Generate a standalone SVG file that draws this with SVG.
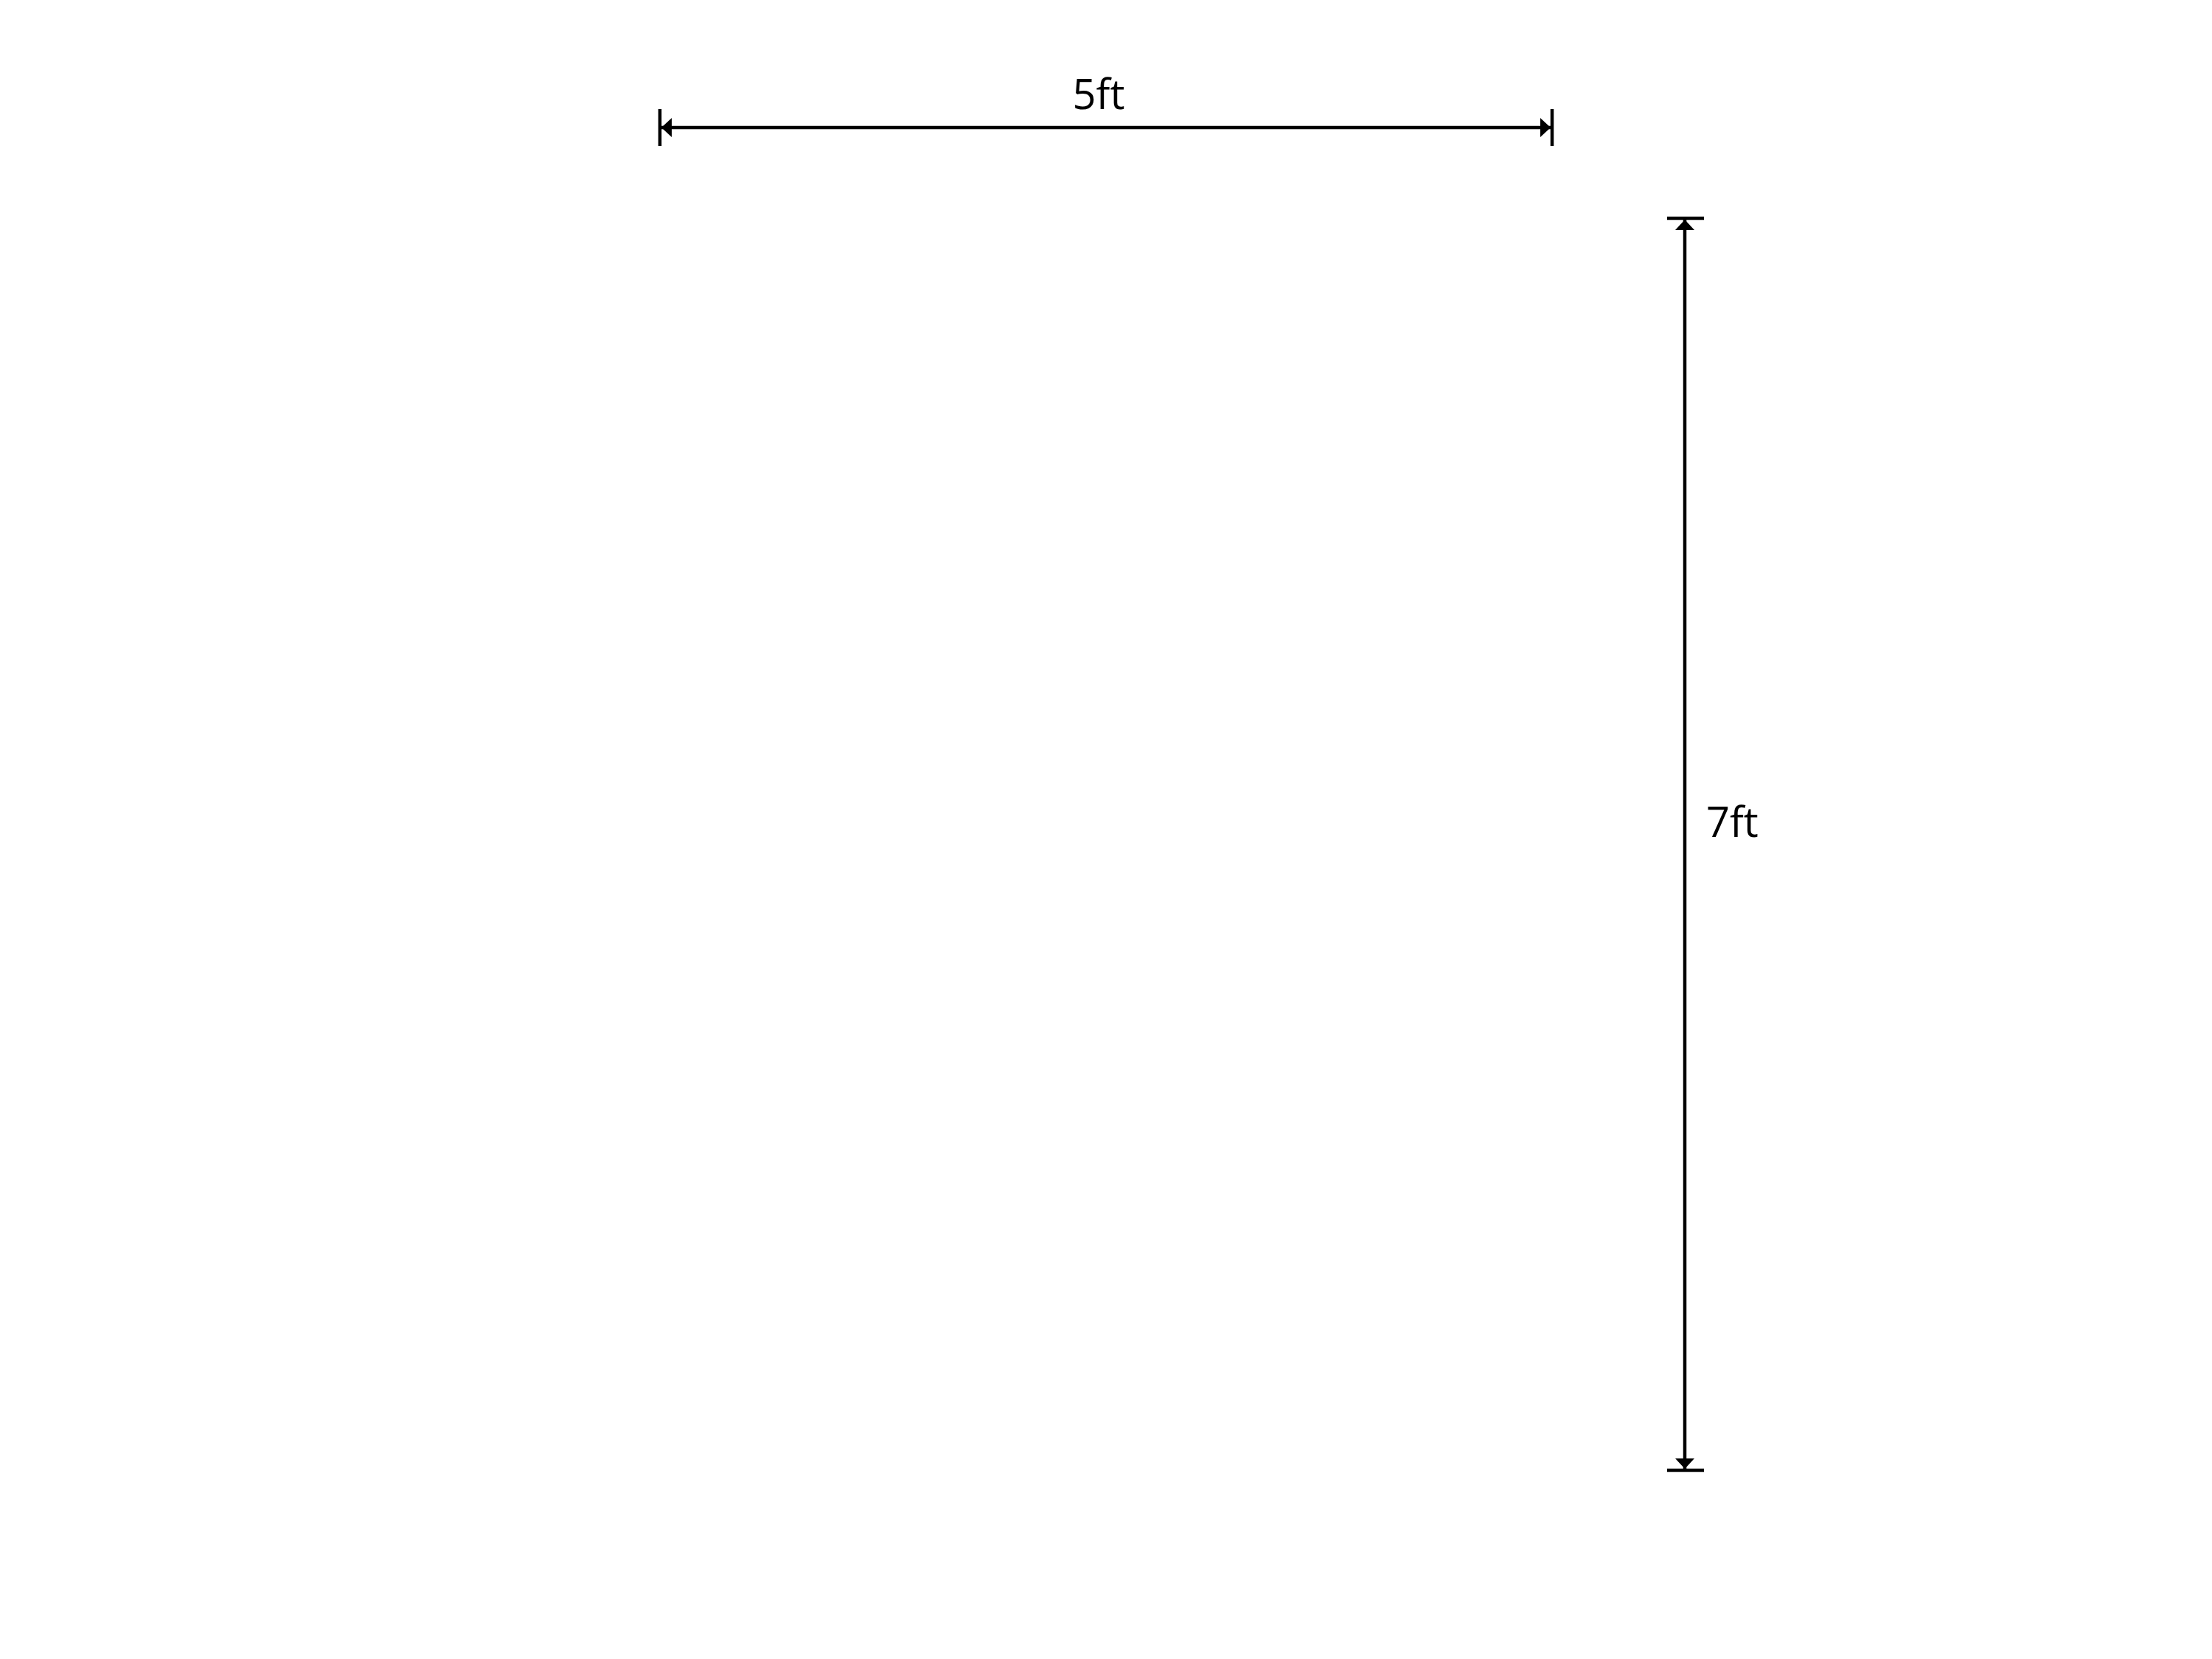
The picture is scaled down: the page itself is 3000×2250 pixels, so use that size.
<svg xmlns="http://www.w3.org/2000/svg" width="3000" height="2250" viewBox="0 0 3000 2250">
<defs>
<style>
.dim{stroke:#000;stroke-width:4.5;fill:none}
.lbl{font-family:"Open Sans","DejaVu Sans",sans-serif;font-size:56px;fill:#000}
</style>
<marker id="ah" viewBox="0 0 14 26" refX="14" refY="13" markerWidth="14" markerHeight="26" markerUnits="userSpaceOnUse" orient="auto-start-reverse">
<path d="M0,0 L14,13 L0,26 Z" fill="#000"/>
</marker>
</defs>
<rect width="3000" height="2250" fill="#fff"/>
<g id="width-dimension">
<line class="dim" x1="895" y1="148" x2="895" y2="198"/>
<line class="dim" x1="2105" y1="148" x2="2105" y2="198"/>
<line class="dim" x1="897" y1="173" x2="2103" y2="173" marker-start="url(#ah)" marker-end="url(#ah)"/>
<text class="lbl" x="1490" y="148" text-anchor="middle">5ft</text>
</g>
<g id="height-dimension">
<line class="dim" x1="2261" y1="296" x2="2311" y2="296"/>
<line class="dim" x1="2261" y1="1994" x2="2311" y2="1994"/>
<line class="dim" x1="2285" y1="298" x2="2285" y2="1992" marker-start="url(#ah)" marker-end="url(#ah)"/>
<text class="lbl" x="2314" y="1135">7ft</text>
</g>
</svg>
